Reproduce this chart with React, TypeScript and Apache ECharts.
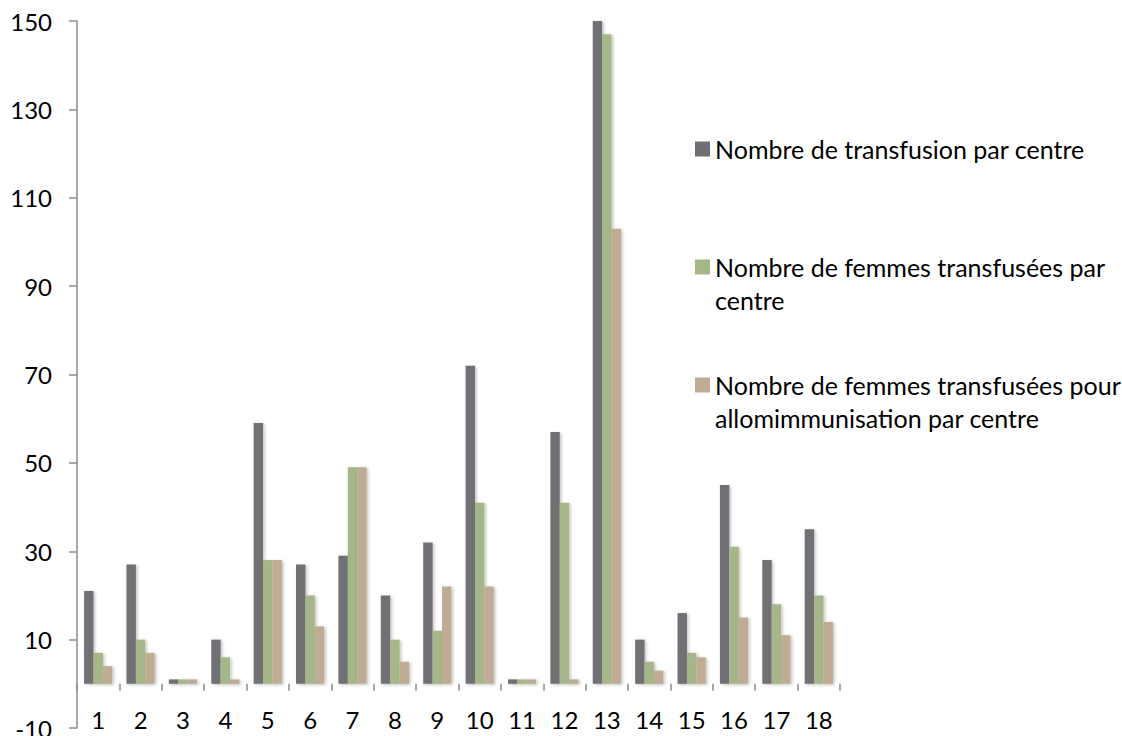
import React, { useEffect, useRef } from "react";
import * as echarts from "echarts";

const categories = ["1", "2", "3", "4", "5", "6", "7", "8", "9", "10", "11", "12", "13", "14", "15", "16", "17", "18"];
const transfusions = [21, 27, 1, 10, 59, 27, 29, 20, 32, 72, 1, 57, 150, 10, 16, 45, 28, 35];
const femmes = [7, 10, 1, 6, 28, 20, 49, 10, 12, 41, 1, 41, 147, 5, 7, 31, 18, 20];
const allo = [4, 7, 1, 1, 28, 13, 49, 5, 22, 22, 1, 1, 103, 3, 6, 15, 11, 14];
const yTicks = [-10, 10, 30, 50, 70, 90, 110, 130, 150];

const S1 = "Nombre de transfusion par centre";
const S2 = "Nombre de femmes transfusées par centre";
const S3 = "Nombre de femmes transfusées pour allomimmunisation par centre";
const legendLabels: Record<string, string> = {
  [S1]: "Nombre de transfusion par centre",
  [S2]: "\nNombre de femmes transfusées par\ncentre",
  [S3]: "\nNombre de femmes transfusées pour\nallomimmunisation par centre",
};

const FONT = "Lato, 'Open Sans', sans-serif";
const AXIS_COLOR = "#8c8c8c";
const LINE_H = 33;

export default function App() {
  const ref = useRef<HTMLDivElement>(null);
  useEffect(() => {
    if (!ref.current) return;
    const chart = echarts.init(ref.current, undefined, { renderer: "svg" });
    const barShadow = {
      shadowColor: "rgba(0,0,0,0.25)",
      shadowBlur: 3,
      shadowOffsetX: 1.5,
      shadowOffsetY: 1,
    };
    const legendBase = (name: string, top: number) => ({
      data: [name],
      left: 695,
      top,
      orient: "vertical",
      padding: 0,
      itemWidth: 15,
      itemHeight: 15,
      itemGap: 5,
      icon: "rect",
      selectedMode: false,
      formatter: (n: string) => legendLabels[n] || n,
      textStyle: {
        fontFamily: FONT,
        fontSize: 25,
        color: "#000",
        lineHeight: LINE_H,
      },
    });
    chart.setOption({
      animation: false,
      backgroundColor: "#fff",
      grid: { left: 77, right: 282, top: 21, bottom: 8, containLabel: false, outerBoundsMode: "none" },
      legend: [
        legendBase(S1, 132.5),
        legendBase(S2, 217.5),
        legendBase(S3, 335.5),
      ],
      xAxis: {
        type: "category",
        data: categories,
        boundaryGap: true,
        axisLine: {
          onZero: true,
          lineStyle: { color: AXIS_COLOR, width: 1.5, shadowColor: "rgba(0,0,0,0.25)", shadowBlur: 3, shadowOffsetY: 3 },
        },
        axisTick: { show: true, length: 7, alignWithLabel: false, lineStyle: { color: AXIS_COLOR, width: 1.5 } },
        axisLabel: { margin: -21, fontFamily: FONT, fontSize: 24, color: "#000" },
        splitLine: { show: false },
      },
      yAxis: {
        type: "value",
        min: -10,
        max: 150,
        axisLine: { show: true, lineStyle: { color: AXIS_COLOR, width: 1.5 } },
        axisTick: { show: true, length: 8, customValues: yTicks, lineStyle: { color: AXIS_COLOR, width: 1.5 } },
        axisLabel: { margin: 25, fontFamily: FONT, fontSize: 24, color: "#000", customValues: yTicks },
        splitLine: { show: false },
      },
      series: [
        { name: S1, type: "bar", data: transfusions, barWidth: 9.4, barGap: "0%", itemStyle: { color: "#706f74", ...barShadow } },
        { name: S2, type: "bar", data: femmes, barWidth: 9.4, barGap: "0%", itemStyle: { color: "#a5b788", ...barShadow } },
        { name: S3, type: "bar", data: allo, barWidth: 9.4, barGap: "0%", itemStyle: { color: "#c0ac95", ...barShadow } },
      ],
    });
    return () => chart.dispose();
  }, []);
  return (
    <div
      ref={ref}
      style={{ position: "fixed", left: 0, top: 0, width: 1122, height: 736, background: "#fff" }}
    />
  );
}
